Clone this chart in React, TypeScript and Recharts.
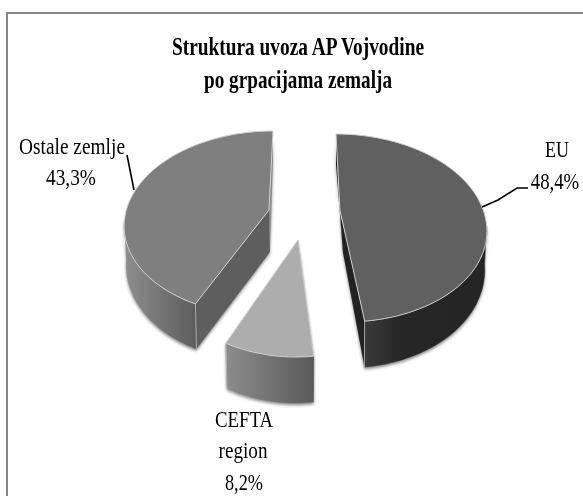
import React from "react";
import { PieChart, Pie } from "recharts";

const names = ["EU", "CEFTA region", "Ostale zemlje"];
const values = [48.4, 8.2, 43.3];
const percentLabels = ["48,4%", "8,2%", "43,3%"];
const titleLines = ["Struktura uvoza AP Vojvodine", "po grpacijama zemalja"];

const data = names.map((name, i) => ({ name, value: values[i] }));

const SERIF = "'Liberation Serif', 'Times New Roman', serif";
const DEPTH = 46;

const layout = [
  { ex: 340.8, ey: 228, rx: 146, ry: 94, s: 4.8, warp: 10, apex: -0.19, top: "#606060", wall: "url(#gEU)", cutA: "#222222", cutB: "#222222" },
  { ex: 297.7, ey: 263, rx: 135, ry: 94, s: -1.7, warp: 10, apex: -0.245, top: "#adadad", wall: "url(#gCE)", cutA: "#6a6a6a", cutB: "#6a6a6a" },
  { ex: 268.2, ey: 223, rx: 144, ry: 92, s: -4.8, warp: 6, apex: -0.14, top: "#7f7f7f", wall: "url(#gOS)", cutA: "#5e5e5e", cutB: "#8a8a8a" },
];

const textLayout: any[] = [
  {
    lines: [
      { x: 557, y: 157, w: 24 },
      { x: 555, y: 189, sx: 0.78 },
    ],
    leader: "M528,188 L517,188 L498,200 L482,207",
  },
  {
    lines: [
      { x: 244, y: 427, w: 58 },
      { x: 243, y: 458, w: 49 },
      { x: 244, y: 490, w: 38 },
    ],
    leader: "",
  },
  {
    lines: [
      { x: 72, y: 154, w: 106 },
      { x: 71, y: 185, w: 50 },
    ],
    leader: "M127,155 L134,190",
  },
];

const labelText = [
  [names[0], percentLabels[0]],
  ["CEFTA", "region", percentLabels[1]],
  [names[2], percentLabels[2]],
];

const rad = (d: number) => (d * Math.PI) / 180;

function rim(l: any, th: number, bottom: boolean) {
  const w = th + l.warp * Math.sin(rad(2 * th));
  const Y = -Math.cos(rad(w));
  const scale = bottom ? 0.985 : 1;
  const x = l.ex + l.rx * scale * Math.sin(rad(w)) + l.s * Y;
  const y = l.ey + l.ry * Y + (bottom ? DEPTH * (0.84 + 0.16 * Y) : 0);
  return [x, y];
}

function arc(l: any, a: number, b: number, bottom: boolean) {
  const pts: number[][] = [];
  const n = Math.max(2, Math.ceil(Math.abs(b - a) / 2));
  for (let i = 0; i <= n; i++) pts.push(rim(l, a + ((b - a) * i) / n, bottom));
  return pts;
}

const toPath = (pts: number[][]) =>
  "M" + pts.map((p) => `${p[0].toFixed(1)},${p[1].toFixed(1)}`).join(" L") + " Z";

function Slice(props: any) {
  const i = names.indexOf(props.name);
  const l = layout[i];
  const t1 = 90 - props.startAngle;
  const t2 = 90 - props.endAngle;
  const apex = [l.ex + l.s * l.apex, l.ey + l.ry * l.apex];
  const apexB = [apex[0] + (i === 0 ? 3 : 1), apex[1] + 42];
  const w1 = Math.max(t1, 88);
  const w2 = Math.min(t2, 272);
  const front = [...arc(l, w1, w2, false), ...arc(l, w2, w1, true)];
  const a1 = rim(l, t1, false);
  const a1b = rim(l, t1, true);
  const a2 = rim(l, t2, false);
  const a2b = rim(l, t2, true);
  const edge = i === 2 ? t1 : t2;
  return (
    <g>
      <g style={{ filter: "drop-shadow(0px 2px 1.5px rgba(0,0,0,0.45))" }}>
        <path d={toPath([apex, a2, a2b, apexB])} fill={i === 2 ? l.cutB : l.cutA} />
        <path d={toPath([apex, a1, a1b, apexB])} fill={i === 2 ? l.cutA : l.cutB} />
        <path d={toPath(front)} fill={l.wall} stroke={l.wall} strokeWidth={0.5} />
      </g>
      <line
        x1={rim(l, edge, false)[0]}
        y1={rim(l, edge, false)[1]}
        x2={rim(l, edge, true)[0]}
        y2={rim(l, edge, true)[1]}
        stroke="#bdbdbd"
        strokeWidth={0.8}
      />
      <path
        d={toPath([apex, ...arc(l, t1, t2, false)])}
        fill={l.top}
        stroke="#cfcfcf"
        strokeWidth={1}
        strokeLinejoin="round"
      />
    </g>
  );
}

function SliceLabel(props: any) {
  const i = names.indexOf(props.name);
  const tl = textLayout[i];
  return (
    <g>
      {tl.leader && <path d={tl.leader} fill="none" stroke="#000" strokeWidth={1.6} />}
      {labelText[i].map((txt: string, j: number) => {
        const ln = tl.lines[j];
        return ln.sx ? (
          <text
            key={j}
            transform={`translate(${ln.x},${ln.y}) scale(${ln.sx},1)`}
            textAnchor="middle"
            fontFamily={SERIF}
            fontSize={24}
            fill="#000"
          >
            {txt}
          </text>
        ) : (
          <text
            key={j}
            x={ln.x}
            y={ln.y}
            textAnchor="middle"
            fontFamily={SERIF}
            fontSize={24}
            fill="#000"
            textLength={ln.w}
            lengthAdjust="spacingAndGlyphs"
          >
            {txt}
          </text>
        );
      })}
    </g>
  );
}

export default function App() {
  return (
    <div style={{ position: "absolute", left: 0, top: 0, width: 583, height: 496, background: "#fff", overflow: "hidden" }}>
      <div
        style={{
          position: "absolute",
          left: 6,
          top: 12,
          width: 600,
          height: 520,
          border: "2px solid #868686",
          boxSizing: "border-box",
        }}
      />
      <div style={{ position: "absolute", left: 0, top: 0, filter: "blur(0.35px)" }}>
        <PieChart width={583} height={496} margin={{ top: 0, right: 0, bottom: 0, left: 0 }}>
          <defs>
            <linearGradient id="gEU" x1="0" x2="1" y1="0" y2="0">
              <stop offset="0" stopColor="#3a3a3a" />
              <stop offset="0.3" stopColor="#262626" />
              <stop offset="1" stopColor="#252525" />
            </linearGradient>
            <linearGradient id="gCE" x1="0" x2="1" y1="0" y2="0">
              <stop offset="0" stopColor="#8c8c8c" />
              <stop offset="1" stopColor="#5a5a5a" />
            </linearGradient>
            <linearGradient id="gOS" x1="0" x2="1" y1="0" y2="0">
              <stop offset="0" stopColor="#8e8e8e" />
              <stop offset="1" stopColor="#5c5c5c" />
            </linearGradient>
          </defs>
          <text x={298} y={55} textAnchor="middle" fontFamily={SERIF} fontWeight="bold" fontSize={26} fill="#000" textLength={252} lengthAdjust="spacingAndGlyphs">
            {titleLines[0]}
          </text>
          <text x={298} y={88} textAnchor="middle" fontFamily={SERIF} fontWeight="bold" fontSize={26} fill="#000" textLength={188} lengthAdjust="spacingAndGlyphs">
            {titleLines[1]}
          </text>
          <Pie
            data={data}
            dataKey="value"
            nameKey="name"
            cx={300}
            cy={240}
            outerRadius={140}
            startAngle={90}
            endAngle={-270}
            isAnimationActive={false}
            shape={Slice}
            label={SliceLabel}
            labelLine={false}
          />
        </PieChart>
      </div>
    </div>
  );
}
